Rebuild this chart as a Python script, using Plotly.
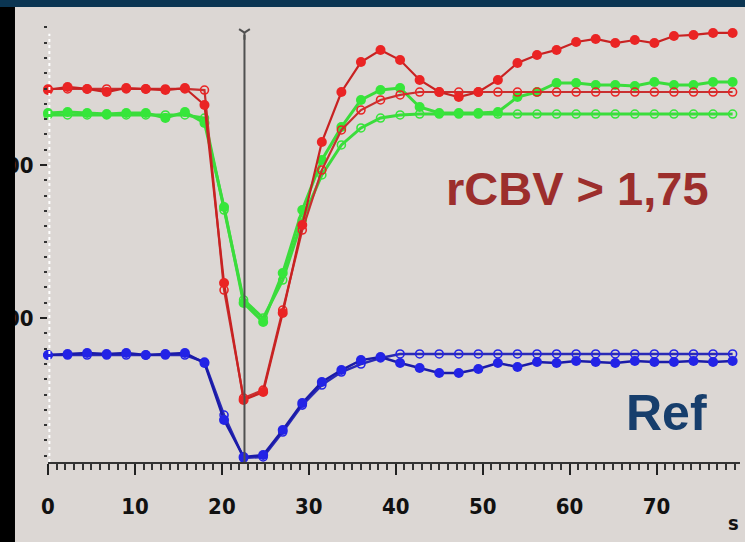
import plotly.graph_objects as go

# ---------------- data ----------------
time_s = [0, 2.25, 4.5, 6.75, 9, 11.25, 13.5, 15.75, 18, 20.25, 22.5, 24.75,
          27, 29.25, 31.5, 33.75, 36, 38.25, 40.5, 42.75, 45, 47.25, 49.5, 51.75,
          54, 56.25, 58.5, 60.75, 63, 65.25, 67.5, 69.75, 72, 74.25, 76.5, 78.75]

red_measured = [249.0, 251.0, 249.7, 247.7, 250.3, 249.7, 249.0, 250.3, 239.2, 122.9,
                46.4, 51.6, 103.3, 160.8, 215.0, 247.7, 267.3, 275.2, 268.6, 255.6,
                247.7, 244.4, 247.7, 255.6, 266.7, 271.9, 275.2, 280.4, 282.4, 279.7,
                281.7, 279.7, 284.3, 285.0, 286.3, 286.3]
red_fit = [249.7, 249.7, 249.7, 249.7, 249.7, 249.7, 249.7, 249.7, 249.0, 118.3,
           47.7, 52.9, 105.2, 157.5, 196.7, 222.9, 235.9, 242.5, 245.8, 247.7,
           247.7, 247.7, 247.7, 247.7, 247.7, 247.7, 247.7, 247.7, 247.7, 247.7,
           247.7, 247.7, 247.7, 247.7, 247.7, 247.7]

green_measured = [234.0, 234.6, 234.0, 233.3, 234.0, 234.0, 230.7, 234.6, 227.5, 172.5,
                  109.8, 97.4, 129.4, 170.6, 203.3, 224.8, 242.5, 249.0, 250.3, 237.9,
                  234.0, 234.0, 234.0, 234.6, 244.4, 247.7, 253.6, 253.6, 252.3, 252.3,
                  251.6, 254.2, 252.3, 252.3, 254.2, 254.2]
green_fit = [232.7, 232.7, 232.7, 232.7, 232.7, 232.7, 232.7, 232.7, 230.7, 170.6,
             111.8, 100.0, 124.8, 164.1, 193.5, 213.1, 224.2, 230.7, 232.7, 233.3,
             233.3, 233.3, 233.3, 233.3, 233.3, 233.3, 233.3, 233.3, 233.3, 233.3,
             233.3, 233.3, 233.3, 233.3, 233.3, 233.3]

blue_measured = [75.8, 76.5, 77.1, 76.5, 77.1, 75.8, 76.5, 77.1, 70.6, 33.3,
                 9.2, 10.5, 26.8, 44.4, 58.2, 66.0, 72.5, 74.5, 70.6, 67.3,
                 64.1, 64.1, 66.7, 70.6, 68.0, 71.2, 70.6, 71.9, 71.2, 70.6,
                 71.9, 71.2, 71.2, 71.9, 71.2, 71.9]
blue_fit = [75.8, 75.8, 75.8, 75.8, 75.8, 75.8, 75.8, 75.8, 71.2, 36.6,
            8.5, 9.2, 25.5, 43.1, 56.2, 64.7, 69.9, 73.9, 76.5, 76.5,
            76.5, 76.5, 76.5, 76.5, 76.5, 76.5, 76.5, 76.5, 76.5, 76.5,
            76.5, 76.5, 76.5, 76.5, 76.5, 76.5]

x_tickvals = [0, 10, 20, 30, 40, 50, 60, 70]
y_tickvals = [100, 200]
y_ticktext = ["100", "200"]
cursor_t = 22.6
cursor_top = 285.0

label_high = "rCBV > 1,75"
label_ref = "Ref"
x_unit = "s"

# ---------------- figure ----------------
BG = "#dcd7d4"
fig = go.Figure()


def add_pair(meas, fit, mcol, lcol, fitcol, lw):
    fig.add_trace(go.Scatter(x=time_s, y=fit, mode="lines+markers", cliponaxis=False,
                             line=dict(color=fitcol, width=lw),
                             marker=dict(symbol="circle-open", size=8, color=mcol,
                                         line=dict(width=1.6, color=mcol)),
                             showlegend=False, hoverinfo="skip"))
    fig.add_trace(go.Scatter(x=time_s, y=meas, mode="lines+markers", cliponaxis=False,
                             line=dict(color=lcol, width=lw),
                             marker=dict(symbol="circle", size=10, color=mcol),
                             showlegend=False, hoverinfo="skip"))


add_pair(green_measured, green_fit, "#36e63a", "#3bdc3c", "#3bdc3c", 3)
add_pair(red_measured, red_fit, "#ea2424", "#c82222", "#c83030", 2.2)
add_pair(blue_measured, blue_fit, "#2323e6", "#1b1ba8", "#2a2ab4", 2.5)

# cursor line
fig.add_trace(go.Scatter(x=[cursor_t, cursor_t], y=[5.9, cursor_top], mode="lines",
                         line=dict(color="#505050", width=2), cliponaxis=False,
                         showlegend=False, hoverinfo="skip"))
fig.add_trace(go.Scatter(x=[cursor_t], y=[cursor_top + 1.5], mode="markers", cliponaxis=False,
                         marker=dict(symbol="y-down-open", size=9, color="#505050",
                                     line=dict(color="#505050", width=2)),
                         showlegend=False, hoverinfo="skip"))

tick_font = dict(family="Liberation Sans Narrow, DejaVu Sans Condensed, Arial Narrow, sans-serif",
                 size=22, color="#111111", weight="bold")

fig.update_layout(
    width=745, height=542,
    margin=dict(l=48, r=5, t=25, b=80),
    paper_bgcolor=BG, plot_bgcolor=BG,
    xaxis=dict(range=[0, 79.6], tickvals=x_tickvals, ticks="outside", ticklen=11,
               tickwidth=2, tickcolor="#222", showline=True, linecolor="#333",
               linewidth=2, showgrid=False, zeroline=False, tickfont=tick_font,
               ticklabelstandoff=13, automargin=False,
               minor=dict(dtick=1, tick0=0, ticks="outside", ticklen=6,
                          tickwidth=1.5, tickcolor="#333", showgrid=False)),
    yaxis=dict(range=[5.9, 291.5], tickvals=y_tickvals, ticktext=y_ticktext,
               ticks="outside", ticklen=7, tickwidth=2, tickcolor="#222",
               showline=False, showgrid=False, zeroline=False, tickfont=tick_font,
               ticklabelstandoff=2, automargin=False,
               minor=dict(dtick=10, tick0=0, ticks="outside", ticklen=3,
                          tickwidth=2, tickcolor="#333", showgrid=False)),
    shapes=[
        dict(type="line", xref="paper", yref="paper", x0=0.002, x1=0.002, y0=0, y1=0.98,
             line=dict(color="#ffffff", width=2, dash="dot"), layer="above"),
        dict(type="rect", xref="paper", yref="paper", x0=-0.08, x1=-0.0477,
             y0=-0.2, y1=1.1, fillcolor="#000000", line=dict(width=0), layer="above"),
        dict(type="rect", xref="paper", yref="paper", x0=-0.08, x1=1.02,
             y0=1.041, y1=1.1, fillcolor="#0b3552", line=dict(width=0), layer="above"),
    ],
    annotations=[
        dict(text=label_high, xref="paper", yref="paper", x=0.765, y=0.627,
             showarrow=False, xanchor="center", yanchor="middle",
             font=dict(family="Liberation Sans, Arial, sans-serif", size=47,
                       color="#9c2e2c", weight="bold")),
        dict(text=label_ref, xref="paper", yref="paper", x=0.894, y=0.112,
             showarrow=False, xanchor="center", yanchor="middle",
             font=dict(family="Liberation Sans, Arial, sans-serif", size=50,
                       color="#173e6c", weight="bold")),
        dict(text=x_unit, xref="paper", yref="paper", x=0.99, y=-0.14,
             showarrow=False, xanchor="center", yanchor="middle",
             font=dict(family="Liberation Sans Narrow, DejaVu Sans Condensed, sans-serif",
                       size=20, color="#111111", weight="bold")),
    ],
)

fig.write_html("out.html", config={"displayModeBar": False},
               post_script="document.body.style.margin='0px';document.body.style.overflow='hidden';")
